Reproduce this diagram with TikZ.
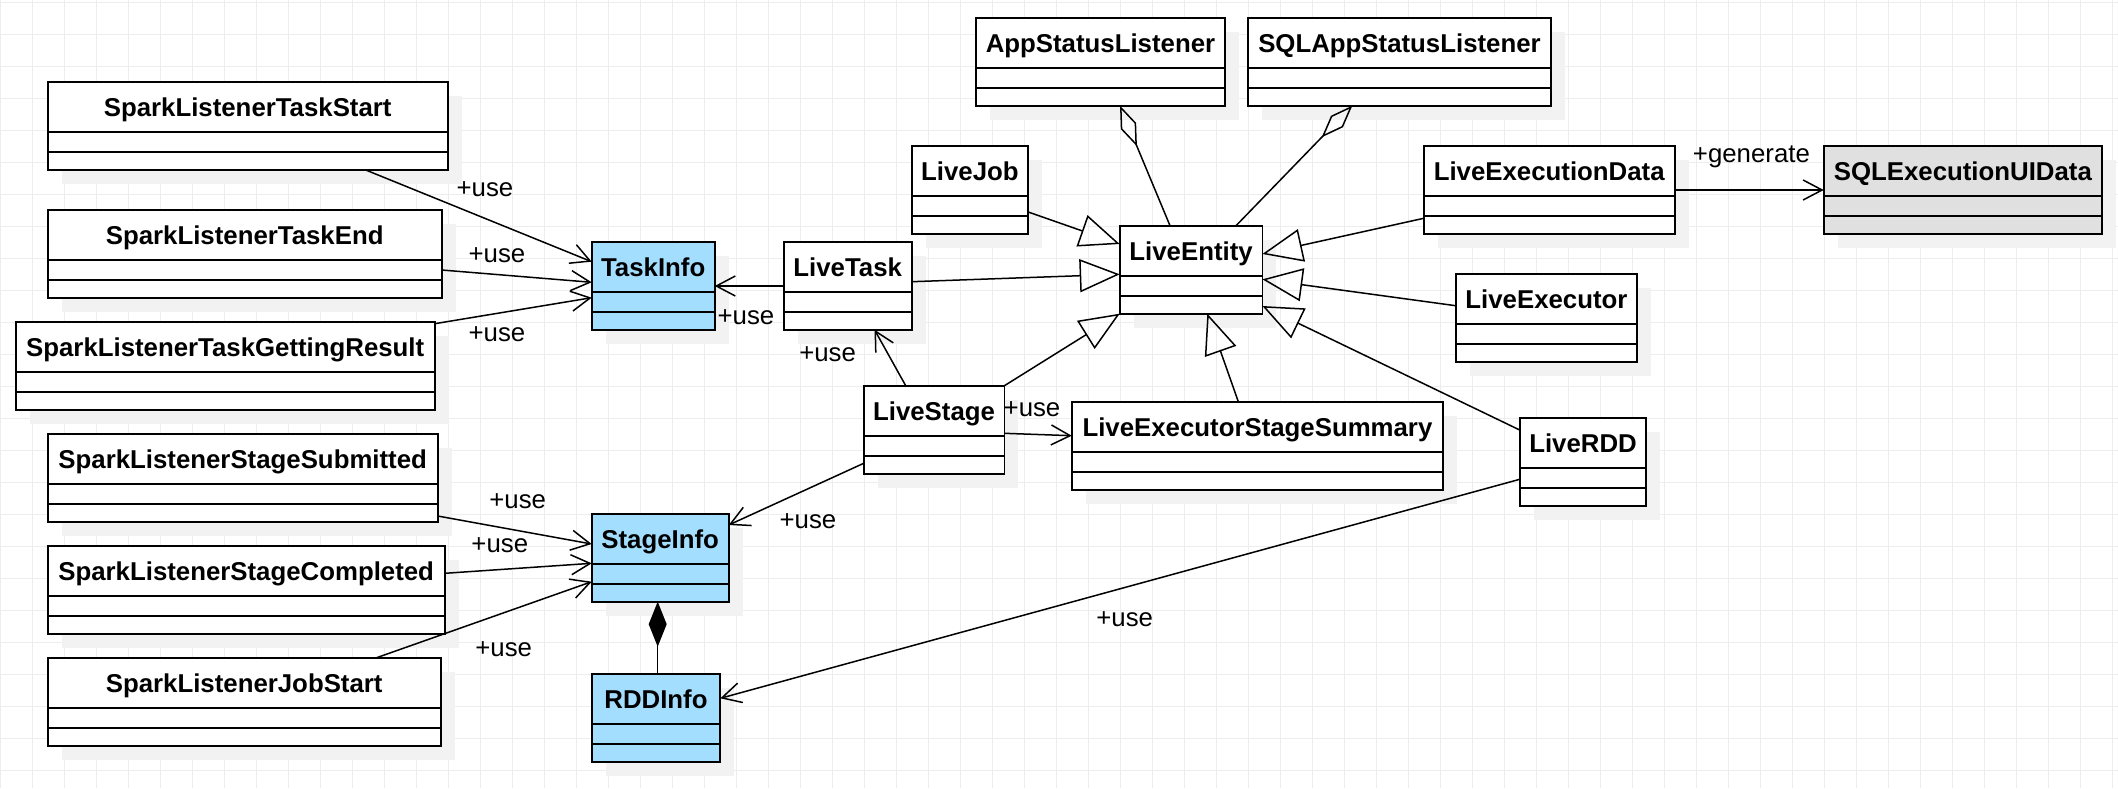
\documentclass[tikz,border=0pt]{standalone}
\usepackage{fontspec}
\setmainfont{Liberation Sans}
\usetikzlibrary{arrows.meta,calc}
\definecolor{gridc}{HTML}{EDEDED}
\definecolor{shadowc}{HTML}{F2F2F2}
\definecolor{bluec}{HTML}{A3DEFF}
\definecolor{greyc}{HTML}{E0E0E0}
\tikzset{
 classbox/.style={draw, line width=0.85pt, rectangle, anchor=north west, inner sep=0pt, outer sep=0pt, minimum height=44pt},
 classname/.style={anchor=base, font=\fontsize{12.9pt}{15pt}\selectfont\bfseries, inner sep=0pt},
 boxline/.style={line width=0.85pt},
 conn/.style={line width=0.75pt},
 usearr/.style={conn, -{Straight Barb[length=9.5pt,width=10pt]}},
 inharr/.style={conn, -{Triangle[open,length=20pt,width=16.5pt]}},
 aggarr/.style={conn, -{Diamond[open,length=22pt,width=8.3pt]}},
 comparr/.style={conn, -{Diamond[length=22.5pt,width=9pt]}},
 lbl/.style={anchor=base, font=\fontsize{12.9pt}{15pt}\selectfont, inner sep=0pt},
}
\newcommand\umlclass[6]{%
  \fill[shadowc] (#2+14,#3+14) rectangle (#2+14+#4,#3+14+88);
  \node[classbox,fill=#5,minimum width=#4*0.5pt] (#1) at (#2,#3) {};
  \node[classname] (#1-name) at ($(#1.north)+(0,34.7)$) {#6};
  \draw[boxline] ($(#1.north west)+(0,50)$) -- ($(#1.north east)+(0,50)$);
  \draw[boxline] ($(#1.north west)+(0,70)$) -- ($(#1.north east)+(0,70)$);
}
\begin{document}
\begin{tikzpicture}[x=0.5pt,y=-0.5pt]
\useasboundingbox (0,0) rectangle (2118,788);
\fill[white] (0,0) rectangle (2118,788);
% grid
\foreach \i in {0,...,66} \draw[gridc,line width=0.5pt] (\i*32+0.5,0) -- (\i*32+0.5,788);
\foreach \j in {0,...,24} \draw[gridc,line width=0.5pt] (0,\j*32+2.3) -- (2118,\j*32+2.3);
% classes
\umlclass{TS}{47.7}{81.7}{400}{white}{SparkListenerTaskStart}
\umlclass{TE}{47.7}{209.7}{394}{white}{SparkListenerTaskEnd}
\umlclass{TG}{15.7}{321.7}{419}{white}{SparkListenerTaskGettingResult}
\umlclass{TI}{591.7}{241.7}{123}{bluec}{TaskInfo}
\umlclass{SS}{47.7}{433.7}{390}{white}{SparkListenerStageSubmitted}
\umlclass{SC}{47.7}{545.7}{397}{white}{SparkListenerStageCompleted}
\umlclass{JS}{47.7}{657.7}{393}{white}{SparkListenerJobStart}
\umlclass{SI}{591.7}{513.7}{137}{bluec}{StageInfo}
\umlclass{RI}{591.7}{673.7}{128.6}{bluec}{RDDInfo}
\umlclass{AL}{975.7}{17.7}{249.5}{white}{AppStatusListener}
\umlclass{SQ}{1247.7}{17.7}{303.5}{white}{SQLAppStatusListener}
\umlclass{LJ}{911.7}{145.7}{116.5}{white}{LiveJob}
\umlclass{LT}{783.7}{241.7}{128}{white}{LiveTask}
\umlclass{LE}{1119.7}{225.7}{142.7}{white}{LiveEntity}
\umlclass{LS}{863.7}{385.7}{140.7}{white}{LiveStage}
\umlclass{LX}{1071.7}{401.7}{371.5}{white}{LiveExecutorStageSummary}
\umlclass{LD}{1423.7}{145.7}{251}{white}{LiveExecutionData}
\umlclass{SU}{1823.7}{145.7}{278.3}{greyc}{SQLExecutionUIData}
\umlclass{LEx}{1455.7}{273.7}{181.5}{white}{LiveExecutor}
\umlclass{LR}{1519.7}{417.7}{126.6}{white}{LiveRDD}
% use associations
\draw[usearr] ($(TS.south west)+(317.3,0)$) -- ($(TI.north west)+(0,20)$);
\draw[usearr] ($(TE.north east)+(0,60.3)$) -- ($(TI.north west)+(0,40.6)$);
\draw[usearr] ($(TG.north east)+(0,2)$) -- ($(TI.north west)+(0,56)$);
\draw[usearr] ($(LT.north west)+(0,44.3)$) -- ($(TI.north east)+(0,44.3)$);
\draw[usearr] ($(LS.north west)+(42,0)$) -- ($(LT.south west)+(90.8,0)$);
\draw[usearr] ($(LS.north east)+(0,47.6)$) -- ($(LX.north west)+(0,34)$);
\draw[usearr] ($(LS.north west)+(0,77.6)$) -- ($(SI.north east)+(0,11.3)$);
\draw[usearr] ($(LR.north west)+(0,61.6)$) -- ($(RI.north east)+(0,24.6)$);
\draw[usearr] ($(SS.north east)+(0,82.3)$) -- ($(SI.north west)+(0,30.3)$);
\draw[usearr] ($(SC.north east)+(0,27.6)$) -- ($(SI.north west)+(0,49.6)$);
\draw[usearr] ($(JS.north west)+(328.9,0)$) -- ($(SI.north west)+(0,68)$);
\draw[usearr] ($(LD.north east)+(0,44.3)$) -- ($(SU.north west)+(0,44.3)$);
% composition
\draw[comparr] ($(RI.north west)+(66,0)$) -- ($(SI.south west)+(66,0)$);
% inheritance
\draw[inharr] ($(LJ.north east)+(0,66.3)$) -- ($(LE.north west)+(0,18.3)$);
\draw[inharr] ($(LT.north east)+(0,40)$) -- ($(LE.north west)+(0,48.6)$);
\draw[inharr] (LS.north east) -- (LE.south west);
\draw[inharr] ($(LX.north west)+(166.6,0)$) -- ($(LE.south west)+(87.6,0)$);
\draw[inharr] ($(LD.north west)+(0,72.6)$) -- ($(LE.north east)+(0,28.3)$);
\draw[inharr] ($(LEx.north west)+(0,32)$) -- ($(LE.north east)+(0,53.6)$);
\draw[inharr] ($(LR.north west)+(0,12.3)$) -- ($(LE.north east)+(0,80.3)$);
% aggregation
\draw[aggarr] ($(LE.north west)+(50.3,0)$) -- ($(AL.south west)+(144.3,0)$);
\draw[aggarr] ($(LE.north west)+(116.3,0)$) -- ($(SQ.south west)+(104.6,0)$);
% labels
\node[lbl] (u1) at (485,196.5) {+use};
\node[lbl] (u2) at (497,262.3) {+use};
\node[lbl] (u3) at (497,341.7) {+use};
\node[lbl] (u4) at (746,324) {+use};
\node[lbl] (u5) at (827.6,361.7) {+use};
\node[lbl] (u6) at (1032,416) {+use};
\node[lbl] (u7) at (808,528) {+use};
\node[lbl] (u8) at (1124.7,626) {+use};
\node[lbl] (u9) at (517.7,508.3) {+use};
\node[lbl] (u10) at (499.8,552) {+use};
\node[lbl] (u11) at (503.7,656) {+use};
\node[lbl] (g1) at (1751.4,162.5) {+generate};
\end{tikzpicture}
\end{document}
